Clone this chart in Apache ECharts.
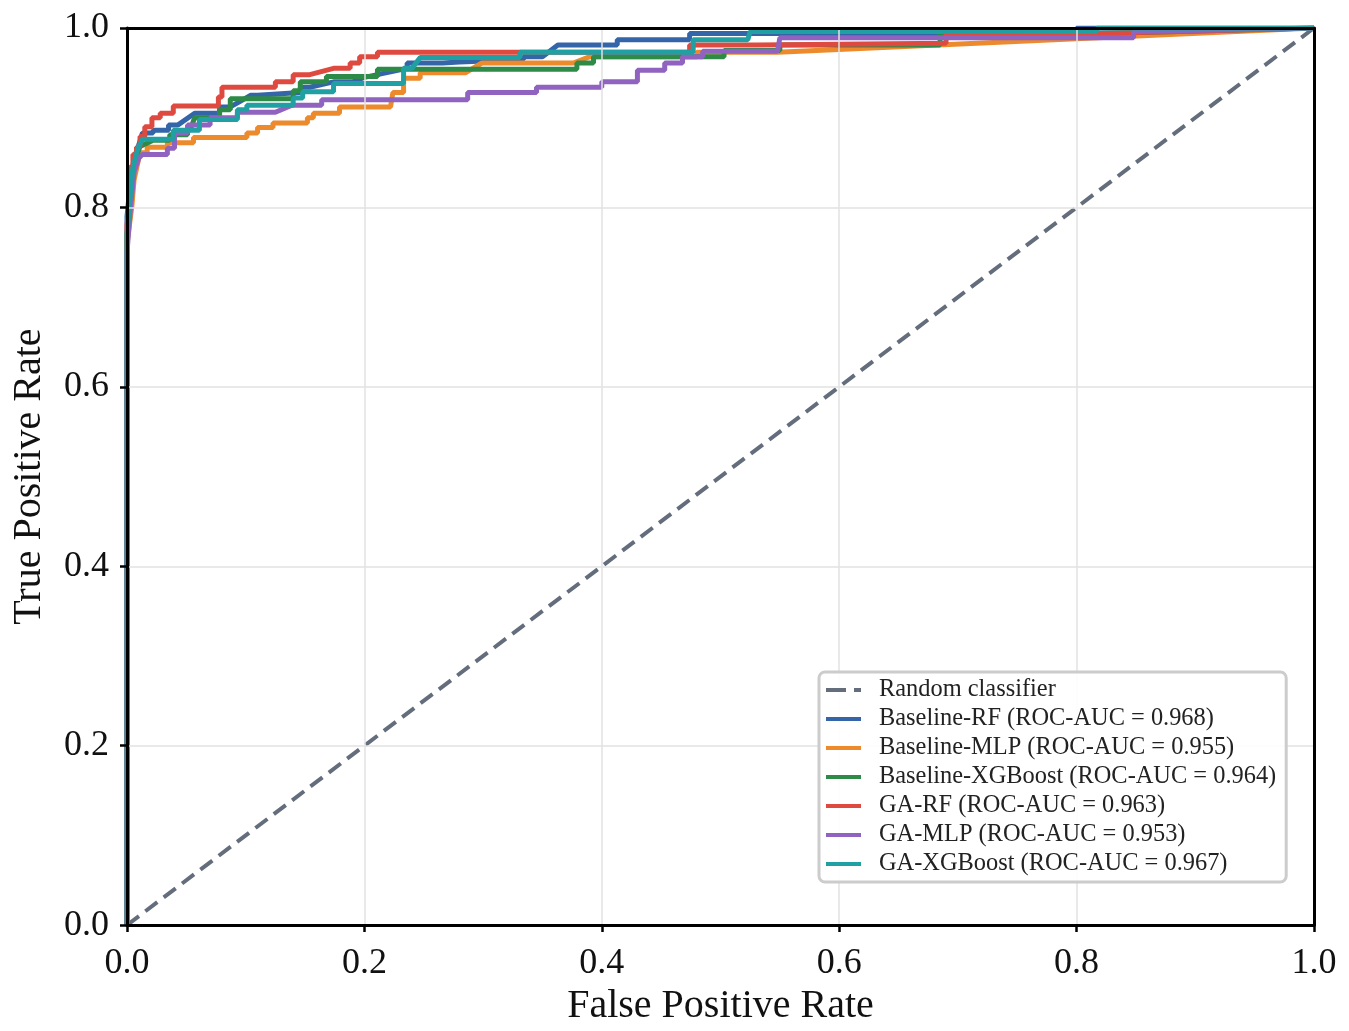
<!DOCTYPE html>
<html>
  <head>
    <meta charset="UTF-8">
    <title>ROC curves</title>
    <style type="text/css">
      * {margin: 0; padding: 0;}
      html, body {width: 100%; height: 100%; background: #fff;}
      #chart {width: 1349px; height: 1031px;}
    </style>
  </head>
  <body>
    <div id="chart"></div>
    <script src="https://cdn.jsdelivr.net/npm/echarts@6/dist/echarts.min.js"></script>
    <script type="text/javascript">
      // tick values on both axes
      var ticks = [0, 0.2, 0.4, 0.6, 0.8, 1.0];

      var names = [
        'Random classifier',
        'Baseline-RF (ROC-AUC = 0.968)',
        'Baseline-MLP (ROC-AUC = 0.955)',
        'Baseline-XGBoost (ROC-AUC = 0.964)',
        'GA-RF (ROC-AUC = 0.963)',
        'GA-MLP (ROC-AUC = 0.953)',
        'GA-XGBoost (ROC-AUC = 0.967)'
      ];

      var randomLine = [[0, 0], [1, 1]];

      // [FPR, TPR] points
      var baselineRF = [[0,0],[0,0.79],[0.003,0.83],[0.006,0.855],[0.01,0.87],[0.013,0.883],[0.022,0.883],[0.022,0.886],
        [0.035,0.886],[0.035,0.892],[0.043,0.892],[0.057,0.905],[0.078,0.905],[0.078,0.912],[0.087,0.912],[0.095,0.918],
        [0.104,0.925],[0.11,0.925],[0.146,0.928],[0.146,0.934],[0.154,0.934],[0.174,0.94],[0.19,0.94],[0.2,0.945],
        [0.236,0.955],[0.236,0.961],[0.266,0.961],[0.28,0.962],[0.334,0.965],[0.334,0.968],[0.35,0.968],[0.363,0.981],
        [0.413,0.981],[0.413,0.987],[0.474,0.987],[0.474,0.994],[0.8,0.994],[0.8,1],[1,1]];

      var baselineMLP = [[0,0],[0,0.76],[0.004,0.8],[0.006,0.831],[0.01,0.855],[0.011,0.861],[0.017,0.861],[0.017,0.867],
        [0.034,0.867],[0.034,0.872],[0.056,0.872],[0.056,0.878],[0.101,0.878],[0.101,0.883],[0.11,0.883],[0.11,0.889],
        [0.123,0.889],[0.123,0.894],[0.152,0.894],[0.152,0.9],[0.157,0.9],[0.157,0.905],[0.179,0.905],[0.179,0.912],
        [0.222,0.912],[0.224,0.928],[0.233,0.928],[0.233,0.944],[0.247,0.944],[0.247,0.95],[0.285,0.95],[0.299,0.961],
        [0.376,0.961],[0.39,0.968],[0.48,0.968],[0.48,0.973],[0.548,0.973],[1,1]];

      var baselineXGB = [[0,0],[0,0.77],[0.003,0.82],[0.006,0.85],[0.011,0.868],[0.022,0.875],[0.036,0.875],[0.036,0.881],
        [0.051,0.881],[0.051,0.886],[0.053,0.886],[0.057,0.9],[0.078,0.9],[0.078,0.909],[0.087,0.909],[0.087,0.921],
        [0.14,0.921],[0.14,0.93],[0.146,0.93],[0.146,0.94],[0.168,0.94],[0.168,0.946],[0.211,0.946],[0.211,0.954],
        [0.379,0.954],[0.379,0.961],[0.393,0.961],[0.393,0.968],[0.503,0.968],[0.503,0.975],[0.55,0.975],[0.55,0.981],
        [0.685,0.981],[0.685,0.994],[0.82,0.994],[1,1]];

      var gaRF = [[0,0],[0,0.78],[0.0025,0.81],[0.0025,0.845],[0.005,0.845],[0.005,0.859],[0.008,0.859],[0.008,0.867],
        [0.011,0.867],[0.011,0.879],[0.015,0.879],[0.015,0.89],[0.021,0.89],[0.021,0.9],[0.028,0.9],[0.028,0.905],
        [0.039,0.905],[0.039,0.913],[0.077,0.913],[0.077,0.923],[0.08,0.923],[0.08,0.934],[0.125,0.934],[0.125,0.94],
        [0.14,0.94],[0.14,0.948],[0.154,0.948],[0.174,0.955],[0.188,0.955],[0.188,0.961],[0.196,0.961],[0.196,0.968],
        [0.211,0.968],[0.211,0.973],[0.474,0.973],[0.474,0.981],[0.531,0.981],[0.531,0.983],[0.69,0.983],[0.69,0.994],
        [0.82,0.994],[1,1]];

      var gaMLP = [[0,0],[0,0.75],[0.003,0.8],[0.006,0.84],[0.01,0.855],[0.013,0.859],[0.034,0.859],[0.034,0.866],
        [0.04,0.866],[0.04,0.883],[0.051,0.883],[0.051,0.892],[0.07,0.892],[0.07,0.9],[0.093,0.9],[0.093,0.906],
        [0.125,0.906],[0.139,0.914],[0.164,0.914],[0.164,0.92],[0.287,0.92],[0.287,0.928],[0.345,0.928],[0.345,0.934],
        [0.4,0.934],[0.4,0.94],[0.43,0.94],[0.43,0.953],[0.453,0.953],[0.453,0.961],[0.468,0.961],[0.468,0.968],
        [0.485,0.968],[0.485,0.974],[0.548,0.974],[0.55,0.989],[0.848,0.989],[0.848,0.996],[1,1]];

      var gaXGB = [[0,0],[0,0.77],[0.0025,0.81],[0.005,0.845],[0.009,0.865],[0.013,0.876],[0.039,0.876],[0.039,0.886],
        [0.061,0.886],[0.061,0.898],[0.093,0.898],[0.093,0.909],[0.101,0.909],[0.101,0.914],[0.14,0.914],[0.14,0.922],
        [0.148,0.922],[0.148,0.929],[0.174,0.929],[0.174,0.938],[0.233,0.938],[0.233,0.955],[0.24,0.955],[0.247,0.967],
        [0.331,0.967],[0.331,0.973],[0.477,0.973],[0.477,0.987],[0.523,0.987],[0.525,0.996],[0.817,0.996],[0.817,1],[1,1]];

      var curves = [randomLine, baselineRF, baselineMLP, baselineXGB, gaRF, gaMLP, gaXGB];
      var colors = ['#646d7c', '#3465a8', '#ec8a2c', '#2e8b47', '#de4a3f', '#9063c0', '#20a0a2'];

      var font = 'Liberation Serif';
      var solidIcon = 'path://M0,0h35v4h-35z';
      var dashIcon = 'path://M0,0h20v4h-20z M28,0h7v4h-7z';

      var chart = echarts.init(document.getElementById('chart'));

      var series = [];
      var legendData = [];
      for (var i = 0; i < curves.length; i++) {
        series.push({
          name: names[i],
          type: 'line',
          data: curves[i],
          symbol: 'none',
          smooth: false,
          color: colors[i],
          lineStyle: {
            color: colors[i],
            width: i == 0 ? 4 : 5,
            type: i == 0 ? [15, 8] : 'solid'
          }
        });
        legendData.push({name: names[i], icon: i == 0 ? dashIcon : solidIcon});
      }

      // plain black frame lines for the top and right sides
      var frameAxis = {
        min: 0, max: 1, type: 'value', z: 10,
        axisLine: {show: true, onZero: false, lineStyle: {color: '#000', width: 3}},
        axisTick: {show: false},
        axisLabel: {show: false},
        splitLine: {show: false}
      };

      var option = {
        animation: false,
        backgroundColor: '#fff',
        textStyle: {fontFamily: font},
        grid: {left: 127, right: 35, top: 28, bottom: 105},
        legend: {
          data: legendData,
          orient: 'vertical',
          left: 819,
          top: 672,
          z: 20,
          itemWidth: 35,
          itemHeight: 4,
          itemGap: 5,
          padding: [6, 10, 6, 7],
          backgroundColor: 'rgba(255,255,255,0.9)',
          borderColor: '#cccccc',
          borderWidth: 3,
          borderRadius: 6,
          textStyle: {fontFamily: font, fontSize: 24.4, color: '#222', lineHeight: 24, padding: [0, 0, 0, 13]}
        },
        xAxis: [{
          type: 'value',
          min: 0, max: 1, interval: 0.2,
          z: 10,
          name: 'False Positive Rate',
          nameLocation: 'middle',
          nameGap: 58,
          nameTextStyle: {fontFamily: font, fontSize: 40, color: '#111'},
          axisLine: {show: true, onZero: false, lineStyle: {color: '#000', width: 3}},
          axisTick: {show: true, inside: false, length: 7, lineStyle: {color: '#000', width: 2.5}},
          axisLabel: {
            margin: 20, fontFamily: font, fontSize: 36, color: '#111',
            formatter: function (v) { return v.toFixed(1); }
          },
          splitLine: {show: true, lineStyle: {color: '#e2e2e2', width: 1.5}}
        }, Object.assign({position: 'top'}, frameAxis)],
        yAxis: [{
          type: 'value',
          min: 0, max: 1, interval: 0.2,
          z: 10,
          name: 'True Positive Rate',
          nameLocation: 'middle',
          nameGap: 78,
          nameTextStyle: {fontFamily: font, fontSize: 40, color: '#111'},
          axisLine: {show: true, onZero: false, lineStyle: {color: '#000', width: 3}},
          axisTick: {show: true, inside: false, length: 7, lineStyle: {color: '#000', width: 2.5}},
          axisLabel: {
            margin: 18, fontFamily: font, fontSize: 36, color: '#111',
            formatter: function (v) { return v.toFixed(1); }
          },
          splitLine: {show: true, lineStyle: {color: '#e2e2e2', width: 1.5}}
        }, Object.assign({position: 'right'}, frameAxis)],
        series: series
      };

      chart.setOption(option);
    </script>
  </body>
</html>
